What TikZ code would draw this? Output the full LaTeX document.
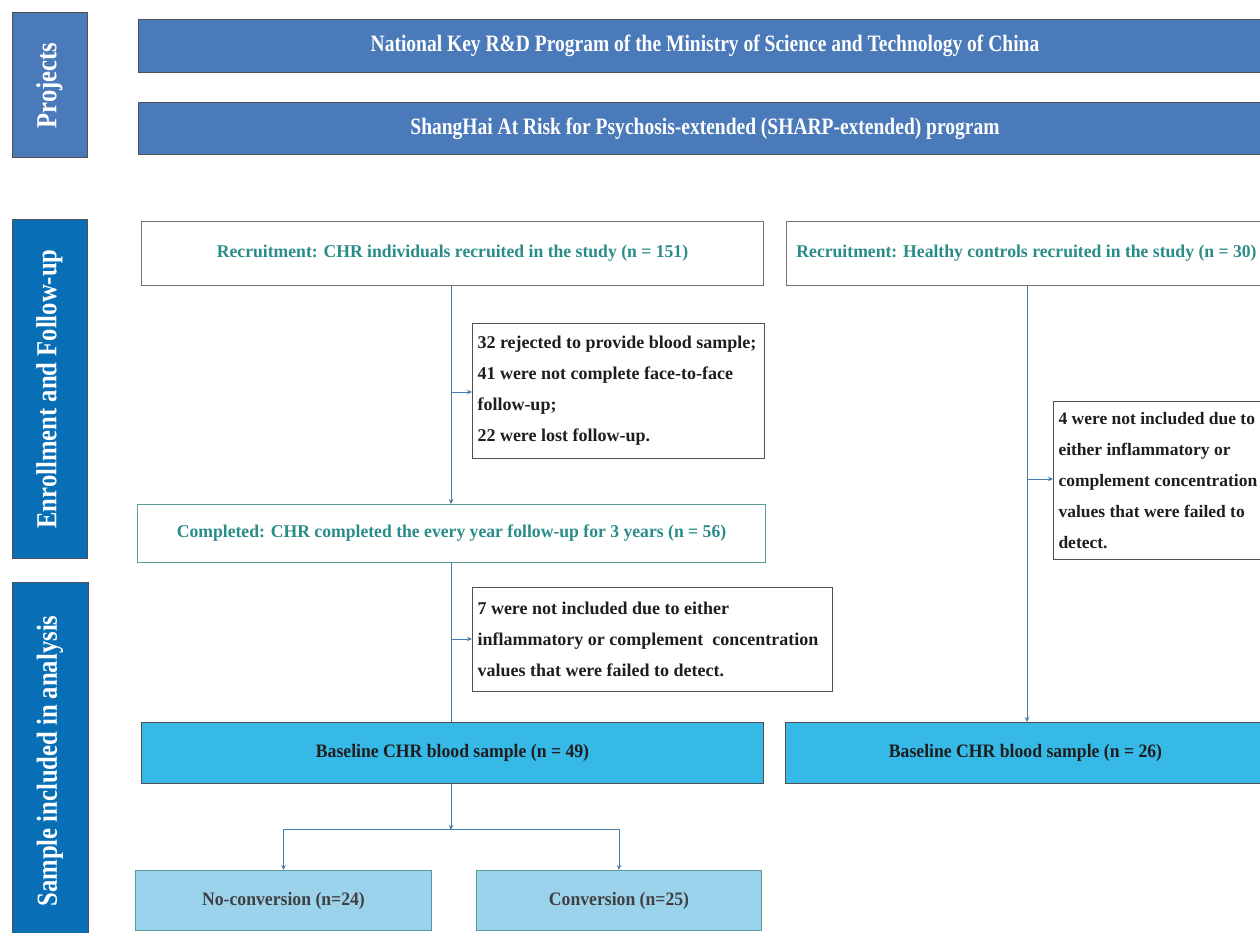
\documentclass[tikz,border=0pt]{standalone}
\usepackage{fontspec}
\setmainfont{Liberation Serif}
\newfontfamily\fA{Liberation Serif}[FakeStretch=0.93]
\newfontfamily\fB{Liberation Serif}[FakeStretch=0.83]
\newfontfamily\fC{Liberation Serif}[FakeStretch=0.85]
\newfontfamily\fD{Liberation Serif}[FakeStretch=0.98]
\usetikzlibrary{arrows.meta}
\definecolor{projblue}{RGB}{74,122,186}
\definecolor{secblue}{RGB}{8,111,183}
\definecolor{basefill}{RGB}{54,185,231}
\definecolor{lightfill}{RGB}{155,210,236}
\definecolor{tealtxt}{RGB}{42,140,136}
\definecolor{tealline}{RGB}{92,155,152}
\definecolor{bordergray}{RGB}{80,80,80}
\definecolor{arrowblue}{RGB}{70,125,170}
\definecolor{darktxt}{RGB}{30,30,30}
\tikzset{
  side/.style={draw=bordergray, line width=1pt, fill=#1, text=white, rotate=90, inner sep=0pt,
    font=\fC\bfseries\fontsize{29}{31}\selectfont},
  bar/.style={draw=bordergray, line width=1pt, fill=projblue, text=white, anchor=north west, inner sep=0pt,
    font=\fB\bfseries\fontsize{23.5}{26}\selectfont},
  recbox/.style={draw=bordergray!80, line width=1pt, fill=white, text=tealtxt, anchor=north west, inner sep=0pt,
    font=\fD\bfseries\fontsize{18}{21}\selectfont},
  compbox/.style={draw=tealline, line width=1pt, fill=white, text=tealtxt, anchor=north west, inner sep=0pt,
    font=\fD\bfseries\fontsize{18}{21}\selectfont},
  exclbox/.style={draw=bordergray, line width=1pt, fill=white, text=darktxt, anchor=north west,
    inner xsep=5pt, inner ysep=0pt, align=flush left,
    font=\bfseries\fontsize{18}{31}\selectfont},
  basebox/.style={draw=bordergray, line width=1pt, fill=basefill, text=darktxt, anchor=north west, inner sep=0pt,
    font=\fA\bfseries\fontsize{19}{22}\selectfont},
  grpbox/.style={draw=tealline, line width=1pt, fill=lightfill, text=darktxt!85, anchor=north west, inner sep=0pt,
    font=\fA\bfseries\fontsize{19}{22}\selectfont},
  conn/.style={draw=arrowblue, line width=1pt},
  arr/.style={conn, -{Stealth[length=5pt,width=4.5pt]}}
}
\begin{document}
\begin{tikzpicture}[x=1pt,y=-1pt]
\clip (0,0) rectangle (1260,933);
\fill[white] (0,0) rectangle (1260,933);

% side labels
\node[side=projblue, minimum width=145pt, minimum height=75pt] (projL) at (49.5,85.5) {Projects};
\node[side=secblue, minimum width=338pt, minimum height=75pt] (enrL) at (49.5,389) {Enrollment and Follow-up};
\node[side=secblue, minimum width=358pt, minimum height=76pt] (sampL) at (50,761) {Sample included in analysis};

% project bars
\node[bar, minimum width=1133pt, minimum height=53pt] (nat) at (138,19)
  {National Key R\&D Program of the Ministry of Science and Technology of China};
\node[bar, minimum width=1133pt, minimum height=52pt] (sharp) at (138,102)
  {ShangHai At Risk for Psychosis-extended (SHARP-extended) program};

% recruitment
\node[recbox, minimum width=622pt, minimum height=64pt] (rec1) at (141,221)
  {Recruitment: CHR individuals recruited in the study (n = 151)};
\node[recbox, minimum width=480pt, minimum height=64pt] (rec2) at (786,221)
  {Recruitment: Healthy controls recruited in the study (n = 30)};

% exclusion boxes
\node[exclbox, text width=282pt, minimum height=135pt] (ex1) at (472,323)
  {32 rejected to provide blood sample;\\41 were not complete face-to-face\\follow-up;\\22 were lost follow-up.};
\node[compbox, minimum width=628pt, minimum height=58pt] (comp) at (137,504)
  {Completed: CHR completed the every year follow-up for 3 years (n = 56)};
\node[exclbox, text width=350pt, minimum height=104pt] (ex2) at (472,587)
  {7 were not included due to either\\inflammatory or complement\ \ concentration\\values that were failed to detect.};
\node[exclbox, text width=225pt, minimum height=158pt, font=\bfseries\fontsize{17.5}{31}\selectfont] (ex3) at (1053,401)
  {4 were not included due to\\either inflammatory or\\complement concentration\\values that were failed to\\detect.};

% baseline
\node[basebox, minimum width=622pt, minimum height=61pt] (base1) at (141,722)
  {Baseline CHR blood sample (n = 49)};
\node[basebox, minimum width=480pt, minimum height=61pt] (base2) at (785,722)
  {Baseline CHR blood sample (n = 26)};

% groups
\node[grpbox, minimum width=296pt, minimum height=60pt] (noconv) at (135,870)
  {No-conversion (n=24)};
\node[grpbox, minimum width=285pt, minimum height=60pt] (conv) at (476,870)
  {Conversion (n=25)};

% connectors
\coordinate (xl) at (451,0);
\coordinate (xr) at (1027,0);
\draw[arr] (rec1.south -| xl) -- (comp.north -| xl);
\coordinate (a1) at (451,392);
\draw[arr] (a1) -- (a1 -| ex1.west);
\draw[conn] (comp.south -| xl) -- (base1.north -| xl);
\coordinate (a2) at (451,639);
\draw[arr] (a2) -- (a2 -| ex2.west);
\draw[arr] (rec2.south -| xr) -- (base2.north -| xr);
\coordinate (a3) at (1027,479);
\draw[arr] (a3) -- (a3 -| ex3.west);
\coordinate (br) at (451,829);
\draw[arr] (base1.south -| br) -- ([yshift=-1pt]br);
\draw[conn] (br -| noconv.north) -- (br -| conv.north);
\draw[arr] (br -| noconv.north) -- (noconv.north);
\draw[arr] (br -| conv.north) -- (conv.north);
\end{tikzpicture}
\end{document}
